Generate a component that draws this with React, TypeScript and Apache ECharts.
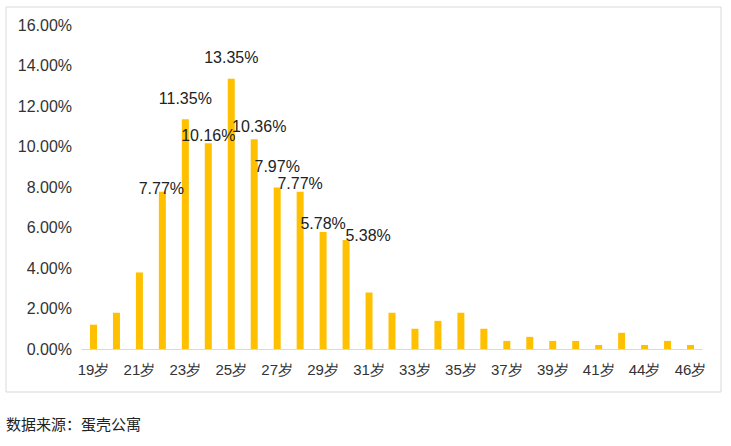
import React, { useEffect, useRef } from "react";
import * as echarts from "echarts";

const categories = [
  "19岁", "20岁", "21岁", "22岁", "23岁", "24岁", "25岁", "26岁", "27岁",
  "28岁", "29岁", "30岁", "31岁", "32岁", "33岁", "34岁", "35岁", "36岁",
  "37岁", "38岁", "39岁", "40岁", "41岁", "42岁", "44岁", "45岁", "46岁",
];
const shares = [
  1.2, 1.79, 3.78, 7.77, 11.35, 10.16, 13.35, 10.36, 7.97,
  7.77, 5.78, 5.38, 2.79, 1.79, 1.0, 1.39, 1.79, 1.0,
  0.4, 0.6, 0.4, 0.4, 0.2, 0.8, 0.2, 0.4, 0.2,
];
const labelledIndexes = [3, 4, 5, 6, 7, 8, 9, 10, 11];
const yTicks = [0, 2, 4, 6, 8, 10, 12, 14, 16];
const sourceNote = "数据来源：蛋壳公寓";

// label nudges (style only), keyed by category index
const labelOffsets: Record<number, [number, number]> = {
  3: [-1, 5],
  4: [0, -13],
  5: [0, 0],
  6: [0, -13],
  7: [5, -5],
  8: [0, -13],
  9: [0, 0],
  10: [0, 0],
  11: [22, 3],
};

export default function App() {
  const ref = useRef<HTMLDivElement>(null);
  useEffect(() => {
    if (!ref.current) return;
    const chart = echarts.init(ref.current, undefined, { renderer: "svg" });
    const font = "Liberation Sans, Arial, sans-serif";
    const data = shares.map((v, i) => {
      const show = labelledIndexes.includes(i);
      return {
        value: v,
        label: show
          ? { show: true, offset: labelOffsets[i] || [0, 0] }
          : { show: false },
      };
    });
    chart.setOption({
      animation: false,
      backgroundColor: "#ffffff",
      grid: { left: 82, right: 29, top: 25, bottom: 97, containLabel: false },
      xAxis: {
        type: "category",
        data: categories,
        axisLine: { lineStyle: { color: "#d9d9d9", width: 1 } },
        axisTick: { show: false },
        axisLabel: {
          interval: 1,
          margin: 13,
          color: "#333333",
          fontSize: 15,
          fontFamily: font,
        },
      },
      yAxis: {
        type: "value",
        min: yTicks[0],
        max: yTicks[yTicks.length - 1],
        interval: 2,
        axisLine: { show: false },
        axisTick: { show: false },
        splitLine: { show: false },
        axisLabel: {
          margin: 10,
          color: "#333333",
          fontSize: 16,
          fontFamily: font,
          formatter: (v: number) => v.toFixed(2) + "%",
        },
      },
      series: [
        {
          type: "bar",
          data,
          barWidth: 7,
          itemStyle: { color: "#FFC000" },
          label: {
            position: "top",
            distance: 0,
            color: "#222222",
            fontSize: 16,
            fontFamily: font,
            formatter: (p: any) => Number(p.value).toFixed(2) + "%",
          },
        },
      ],
      graphic: [
        {
          type: "rect",
          shape: { x: 6, y: 7, width: 715, height: 385 },
          style: { fill: "none", stroke: "#d9d9d9", lineWidth: 1 },
          silent: true,
          z: -1,
        },
        {
          type: "text",
          x: 6,
          y: 423,
          style: {
            text: sourceNote,
            fill: "#222222",
            fontSize: 15,
            fontFamily: "Noto Sans CJK SC, sans-serif",
            verticalAlign: "middle",
          },
        },
      ],
    });
    return () => chart.dispose();
  }, []);
  return (
    <div
      ref={ref}
      style={{ position: "fixed", left: 0, top: 0, width: 731, height: 446 }}
    />
  );
}
